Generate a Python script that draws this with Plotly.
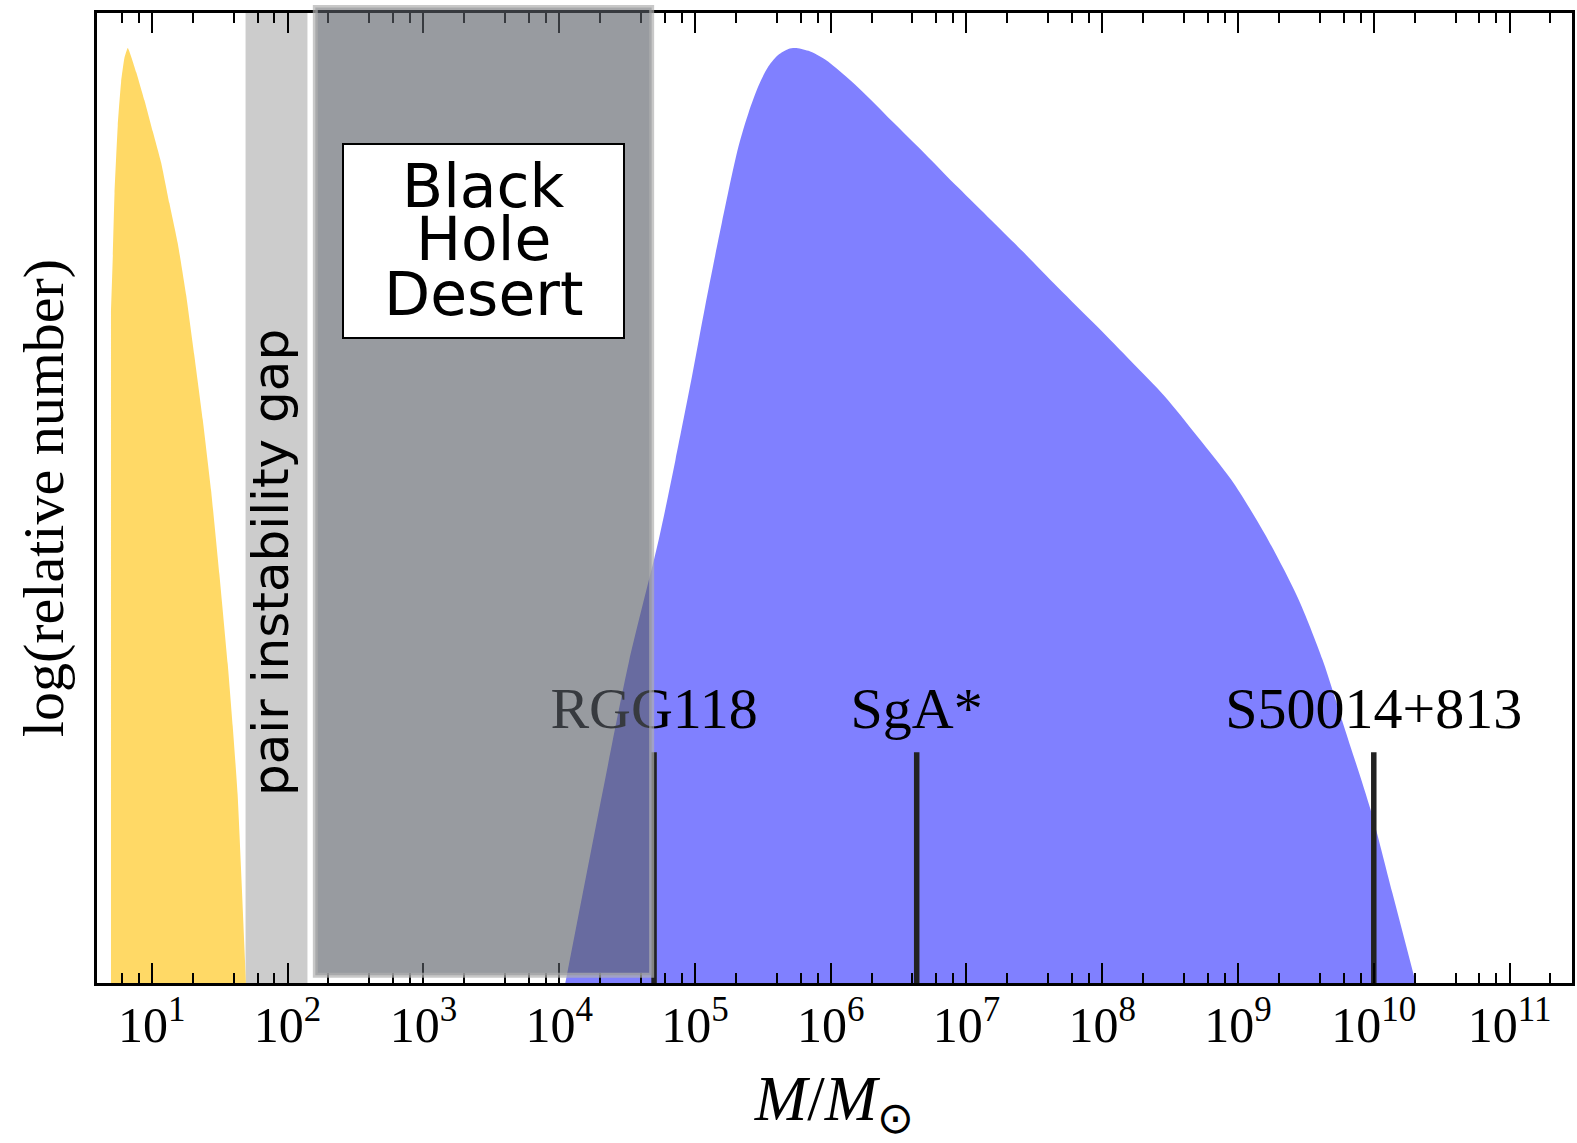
import plotly.graph_objects as go

# Stellar-mass black holes: mass [M_sun] and log(relative number)
stellar_mass = [5.0, 5.16, 5.31, 5.61, 5.94, 6.29, 6.65, 7.67, 8.82, 10.15, 11.7,
                13.46, 15.5, 17.9, 20.5, 23.7, 27.3, 31.4, 36.2, 39.4, 42.8, 49.3]
stellar_lognum = [6.93, 7.50, 8.14, 8.84, 9.29, 9.54, 9.64, 9.39, 9.10, 8.78, 8.46,
                  8.04, 7.63, 7.09, 6.48, 5.81, 5.08, 4.22, 3.29, 2.65, 1.95, 0.0]

# Massive / supermassive black holes
smbh_mass = [1.11e4, 2.07e4, 3.25e4, 5.41e4, 7.18e4, 9.5e4, 1.19e5, 1.58e5,
             2.09e5, 2.48e5, 2.94e5, 3.48e5, 4.12e5, 4.88e5, 5.47e5, 6.86e5, 9.1e5,
             1.6e6, 2.81e6, 4.94e6, 8.69e6, 1.53e7, 2.69e7, 4.72e7, 9.3e7, 1.63e8,
             2.88e8, 5.06e8, 8.9e8, 1.56e9, 2.74e9, 4.2e9, 6.05e9, 9.5e9, 1.37e10,
             2.04e10]
smbh_lognum = [0.0, 1.94, 3.30, 4.57, 5.39, 6.25, 6.98, 7.84,
               8.62, 8.97, 9.25, 9.45, 9.57, 9.63, 9.64, 9.61, 9.52,
               9.23, 8.89, 8.55, 8.20, 7.86, 7.52, 7.17, 6.76, 6.41,
               6.05, 5.63, 5.19, 4.64, 3.98, 3.33, 2.64, 1.78, 0.93,
               0.0]

# Mass ranges of the shaded bands
pair_instability_gap = [49, 140]
black_hole_desert = [160, 4.8e4]

# Individual objects
object_names = ["RGG118", "SgA*", "S50014+813"]
object_masses = [5.0e4, 4.3e6, 1.0e10]

tick_exponents = list(range(1, 12))

# ---------------------------------------------------------------
SERIF = "Liberation Serif, Times New Roman, serif"
SANS = "DejaVu Sans, sans-serif"
MARK_TOP = 2.38      # height of the object markers
LABEL_LEVEL = 2.78   # height of the object labels

fig = go.Figure()

fig.add_trace(go.Scatter(
    x=stellar_mass, y=stellar_lognum, mode="lines", fill="tozeroy",
    fillcolor="#ffd966", line=dict(width=0, color="#ffd966", shape="spline", smoothing=0.4),
    hoverinfo="skip"))

fig.add_trace(go.Scatter(
    x=smbh_mass, y=smbh_lognum, mode="lines", fill="tozeroy",
    fillcolor="#8080ff", line=dict(width=0, color="#8080ff", shape="spline", smoothing=0.8),
    hoverinfo="skip"))

seg_x, seg_y = [], []
for m in object_masses:
    seg_x += [m, m, None]
    seg_y += [0, MARK_TOP, None]
fig.add_trace(go.Scatter(x=seg_x, y=seg_y, mode="lines",
                         line=dict(color="#222222", width=5.5), hoverinfo="skip"))

fig.add_trace(go.Scatter(
    x=object_masses, y=[LABEL_LEVEL] * len(object_masses), mode="text",
    text=object_names, textposition="middle center",
    textfont=dict(family=SERIF, size=58, color="black"), hoverinfo="skip"))

# Pair-instability gap (behind everything)
fig.add_shape(type="rect", layer="below", xref="x", yref="paper",
              x0=pair_instability_gap[0], x1=pair_instability_gap[1],
              y0=0, y1=1, fillcolor="#cccccc", line=dict(width=0))

# Black hole desert (drawn over the data and the axes)
fig.add_shape(type="rect", layer="above", xref="x", yref="paper",
              x0=black_hole_desert[0], x1=black_hole_desert[1],
              y0=0.008, y1=1.0057, fillcolor="rgba(88,93,101,0.62)",
              line=dict(color="rgba(175,175,175,0.69)", width=5))

minor_vals = [k * 10 ** d for d in range(0, 12) for k in (2, 4, 6, 8)]

fig.update_layout(
    width=1577, height=1143,
    margin=dict(l=97, r=2, t=13, b=160),
    paper_bgcolor="white", plot_bgcolor="white",
    showlegend=False,
    xaxis=dict(
        type="log", range=[0.596, 11.46],
        showline=True, linewidth=3, linecolor="black", mirror="ticks",
        ticks="inside", ticklen=20, tickwidth=2, tickcolor="black",
        tickvals=[10 ** k for k in tick_exponents],
        ticktext=["10<sup>%d</sup>" % k for k in tick_exponents],
        tickfont=dict(family=SERIF, size=50, color="black"),
        ticklabelstandoff=-4,
        minor=dict(ticks="inside", ticklen=10, tickwidth=2, tickcolor="black",
                   tickvals=minor_vals, showgrid=False),
        showgrid=False, zeroline=False,
        title=dict(text="<i>M</i>/<i>M</i><sub>⊙</sub>",
                   font=dict(family=SERIF, size=63, color="black"), standoff=34),
    ),
    yaxis=dict(
        range=[0, 10], showline=True, linewidth=3, linecolor="black", mirror=True,
        ticks="", showticklabels=False, showgrid=False, zeroline=False,
        title=dict(text="log(relative number)",
                   font=dict(family=SERIF, size=58, color="black"), standoff=12),
    ),
)

# "Black Hole Desert" label box
fig.add_annotation(xref="paper", yref="paper", x=0.2623, y=0.7646,
                   xanchor="center", yanchor="middle", text=" ", showarrow=False,
                   width=279, height=192, bgcolor="white", bordercolor="black",
                   borderwidth=2, borderpad=0)
for word, ypos in zip(["Black", "Hole", "Desert"], [0.8215, 0.7667, 0.7105]):
    fig.add_annotation(xref="paper", yref="paper", x=0.2623, y=ypos,
                       xanchor="center", yanchor="middle", text=word, showarrow=False,
                       font=dict(family=SANS, size=60, color="black"))

fig.add_annotation(xref="paper", yref="paper", x=0.118, y=0.433,
                   xanchor="center", yanchor="middle", text="pair instability gap",
                   textangle=-90, showarrow=False,
                   font=dict(family=SANS, size=50, color="black"))

fig.write_html("out.html")
